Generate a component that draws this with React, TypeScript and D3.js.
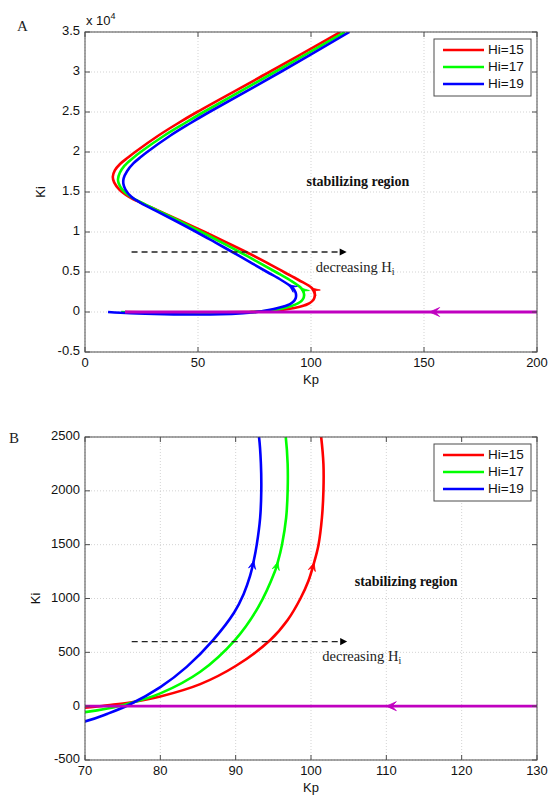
import React from 'react';
import * as d3 from 'd3';

// ---------------- data ----------------
const seriesNames = ['Hi=15', 'Hi=17', 'Hi=19'];
const seriesColors = ['#ff0000', '#00ff00', '#0000ff'];

const redKp = [17.7, 30, 45, 60, 70, 73, 76, 80, 85.3, 90, 94.6, 96.9, 98.6, 99.64, 100.4, 101.0, 101.45, 101.65, 101.65, 101.35, 100.35, 94.5, 88, 80.2, 71.3, 62.6, 53, 41.5, 32.2, 25.2, 19.5, 15.2, 12.9, 12.3, 13.2, 15.5, 19, 22.2, 32.2, 40.6, 49.6, 81.6, 113];
const redKi = [0, -40, -60, -50, -15, 8, 34, 90, 205, 373, 614, 800, 1000, 1160, 1331, 1500, 1750, 2000, 2250, 2500, 3000, 4000, 5000, 6200, 7500, 8700, 10000, 11500, 12700, 13600, 14400, 15300, 16200, 16900, 17700, 18500, 19300, 20000, 22000, 23500, 25000, 30000, 35000];

const greenKp = [16, 25, 40, 55, 65, 70, 73, 75.5, 80, 85.3, 89.9, 93.0, 95.2, 95.6, 96.15, 96.7, 96.9, 96.9, 96.65, 95.6, 90.6, 84.4, 76.8, 68.4, 60.4, 51.5, 40.8, 32, 25.5, 20.2, 16.5, 14.9, 14.6, 15.4, 17.5, 21, 24.6, 34.8, 43.5, 52.5, 84, 115];
const greenKi = [0, -80, -130, -128, -95, -55, -21, 18, 119, 320, 614, 920, 1250, 1340, 1500, 1750, 2000, 2250, 2500, 3000, 4000, 5000, 6200, 7500, 8700, 10000, 11500, 12700, 13600, 14400, 15300, 16100, 16600, 17400, 18300, 19200, 20000, 22000, 23500, 25000, 30000, 35000];

const blueKp = [10.2, 20, 35, 50, 60, 70, 73, 76, 80, 83.5, 87, 89.8, 91.05, 91.9, 92.4, 92.8, 93.25, 93.4, 93.35, 93.1, 91.9, 90.1, 86.8, 80.6, 73.2, 65.2, 57.6, 49.3, 39.3, 31, 24.8, 20.5, 17.9, 17, 17.1, 18.6, 21.5, 24.8, 27.5, 37.5, 46, 55, 86.5, 117];
const blueKi = [0, -150, -270, -320, -284, -142, -70, 18, 177, 365, 614, 870, 1040, 1207, 1350, 1500, 1750, 2000, 2250, 2500, 3000, 3400, 4000, 5000, 6200, 7500, 8700, 10000, 11500, 12700, 13600, 14400, 15300, 16000, 16700, 17600, 18600, 19400, 20000, 22000, 23500, 25000, 30000, 35000];

// Ki value of the data point carrying the direction arrow, per series
const arrowKiA = [3000, 3000, 3400];
const arrowKiB = [1331, 1340, 1350];

// magenta Ki = 0 boundary
const magentaKpA = [17.7, 200];
const magentaKpB = [70, 130];
const magentaArrowA = 152.5;
const magentaArrowB = 110;

// dashed "decreasing Hi" arrows
const dashKpA = [20.6, 115.8];
const dashKiA = 7500;
const dashKpB = [76.2, 104.8];
const dashKiB = 600;

// axes
const xTicksA = [0, 50, 100, 150, 200];
const yTicksA = [-5000, 0, 5000, 10000, 15000, 20000, 25000, 30000, 35000];
const xTicksB = [70, 80, 90, 100, 110, 120, 130];
const yTicksB = [-500, 0, 500, 1000, 1500, 2000, 2500];

// text anchors (data coords)
const stabA = [98, 15750];
const stabB = [105.8, 1120];
const decA = [102.1, 5000];
const decB = [101.5, 417];

// ---------------- drawing ----------------
const W = 549;
const H = 796;
const SANS = 'Liberation Sans, Arial, sans-serif';
const SERIF = 'Liberation Serif, Times New Roman, serif';
const MAGENTA = '#c000c0';

type Pt = [number, number];
const zip = (a: number[], b: number[]): Pt[] => a.map((v, i) => [v, b[i]]);
const series = [zip(redKp, redKi), zip(greenKp, greenKi), zip(blueKp, blueKi)];

function vArrow(tip: Pt, dir: Pt, len: number, half: number, color: string, key: string) {
  const n = Math.hypot(dir[0], dir[1]) || 1;
  const ux = dir[0] / n, uy = dir[1] / n;
  const px = -uy, py = ux;
  const bx = tip[0] - ux * len, by = tip[1] - uy * len;
  const nx = tip[0] - ux * len * 0.55, ny = tip[1] - uy * len * 0.55;
  const d = `M${tip[0]},${tip[1]}L${bx + px * half},${by + py * half}L${nx},${ny}L${bx - px * half},${by - py * half}Z`;
  return <path key={key} d={d} fill={color} stroke={color} strokeWidth={0.8} strokeLinejoin="miter" />;
}

function triArrow(tip: Pt, dir: Pt, len: number, half: number, color: string) {
  const n = Math.hypot(dir[0], dir[1]) || 1;
  const ux = dir[0] / n, uy = dir[1] / n;
  const px = -uy, py = ux;
  const bx = tip[0] - ux * len, by = tip[1] - uy * len;
  const d = `M${tip[0]},${tip[1]}L${bx + px * half},${by + py * half}L${bx - px * half},${by - py * half}Z`;
  return <path d={d} fill={color} />;
}

interface PanelCfg {
  id: string;
  letter: string;
  letterPos: Pt;
  xDomain: [number, number];
  yDomain: [number, number];
  left: number; right: number; top: number; bottom: number;
  xTicks: number[]; yTicks: number[];
  yFmt: (v: number) => string;
  arrowKi: number[];
  magKp: number[]; magArrow: number;
  dashKp: number[]; dashKi: number;
  stab: number[]; dec: number[];
  exponent: boolean;
  yLabelX: number;
}

function Panel({ c }: { c: PanelCfg }) {
  const x = d3.scaleLinear().domain(c.xDomain).range([c.left, c.right]);
  const y = d3.scaleLinear().domain(c.yDomain).range([c.bottom, c.top]);
  const line = d3.line<Pt>().x(d => x(d[0])).y(d => y(d[1])).curve(d3.curveCatmullRom.alpha(0.5));
  const clipId = 'clip' + c.id;
  const tick = 5;
  const axisColor = '#4d4d4d';

  const arrows = series.map((pts, si) => {
    const idx = pts.findIndex(p => p[1] === c.arrowKi[si]);
    if (idx < 1) return null;
    const a = pts[idx - 1], b = pts[idx + 1];
    const dir: Pt = [x(b[0]) - x(a[0]), y(b[1]) - y(a[1])];
    return vArrow([x(pts[idx][0]), y(pts[idx][1])], dir, 8, 3.6, seriesColors[si], 'ar' + si);
  });

  const legTop = c.top + 7;
  return (
    <g>
      <defs>
        <clipPath id={clipId}>
          <rect x={c.left} y={c.top} width={c.right - c.left} height={c.bottom - c.top} />
        </clipPath>
      </defs>
      <rect x={c.left} y={c.top} width={c.right - c.left} height={c.bottom - c.top} fill="#fff" />
      {/* grid */}
      {c.xTicks.map(t => (
        <line key={'gx' + t} x1={x(t)} x2={x(t)} y1={c.top} y2={c.bottom} stroke="#c8c8c8" strokeWidth={0.8} strokeDasharray="1,2" />
      ))}
      {c.yTicks.map(t => (
        <line key={'gy' + t} x1={c.left} x2={c.right} y1={y(t)} y2={y(t)} stroke="#c8c8c8" strokeWidth={0.8} strokeDasharray="1,2" />
      ))}
      {/* curves */}
      <g clipPath={`url(#${clipId})`}>
        {series.map((pts, si) => (
          <path key={'s' + si} d={line(pts) || ''} fill="none" stroke={seriesColors[si]} strokeWidth={2.6} strokeLinejoin="round" />
        ))}
        {arrows}
        <line x1={x(c.magKp[0])} x2={x(c.magKp[1])} y1={y(0)} y2={y(0)} stroke={MAGENTA} strokeWidth={2.8} />
        {vArrow([x(c.magArrow), y(0)], [-1, 0], 10, 4.5, MAGENTA, 'mag')}
      </g>
      {/* dashed annotation */}
      <line x1={x(c.dashKp[0])} x2={x(c.dashKp[1]) - 6} y1={y(c.dashKi)} y2={y(c.dashKi)} stroke="#222" strokeWidth={1.3} strokeDasharray="6,4" />
      {triArrow([x(c.dashKp[1]), y(c.dashKi)], [1, 0], 7, 3.6, '#000')}
      <text x={x(c.dec[0])} y={y(c.dec[1])} fontFamily={SERIF} fontSize={14.5} fill="#222">
        decreasing H<tspan fontSize={10} dy={3}>i</tspan>
      </text>
      <text x={x(c.stab[0])} y={y(c.stab[1])} fontFamily={SERIF} fontSize={14} fontWeight="bold" fill="#111">
        stabilizing region
      </text>
      {/* frame */}
      <rect x={c.left} y={c.top} width={c.right - c.left} height={c.bottom - c.top} fill="none" stroke={axisColor} strokeWidth={1} />
      {c.xTicks.map(t => (
        <g key={'tx' + t}>
          <line x1={x(t)} x2={x(t)} y1={c.bottom} y2={c.bottom - tick} stroke={axisColor} />
          <line x1={x(t)} x2={x(t)} y1={c.top} y2={c.top + tick} stroke={axisColor} />
          <text x={x(t)} y={c.bottom + 12} textAnchor="middle" dominantBaseline="middle" fontFamily={SANS} fontSize={13} fill="#111">{t}</text>
        </g>
      ))}
      {c.yTicks.map(t => (
        <g key={'ty' + t}>
          <line x1={c.left} x2={c.left + tick} y1={y(t)} y2={y(t)} stroke={axisColor} />
          <line x1={c.right} x2={c.right - tick} y1={y(t)} y2={y(t)} stroke={axisColor} />
          <text x={c.left - 5} y={y(t)} textAnchor="end" dominantBaseline="middle" fontFamily={SANS} fontSize={13} fill="#111">{c.yFmt(t)}</text>
        </g>
      ))}
      {c.exponent && (
        <text x={c.left + 1} y={c.top - 7} fontFamily={SANS} fontSize={13} fill="#111">
          x 10<tspan fontSize={9} dy={-6}>4</tspan>
        </text>
      )}
      <text x={(c.left + c.right) / 2} y={c.bottom + 29} textAnchor="middle" dominantBaseline="middle" fontFamily={SANS} fontSize={13} fill="#111">Kp</text>
      <text transform={`translate(${c.yLabelX},${(c.top + c.bottom) / 2}) rotate(-90)`} textAnchor="middle" dominantBaseline="middle" fontFamily={SANS} fontSize={13} fill="#111">Ki</text>
      <text x={c.letterPos[0]} y={c.letterPos[1]} fontFamily={SERIF} fontSize={15} fill="#222">{c.letter}</text>
      {/* legend */}
      <rect x={434} y={legTop} width={97} height={57} fill="#fff" stroke={axisColor} strokeWidth={1} />
      {seriesNames.map((nm, i) => (
        <g key={'lg' + i}>
          <line x1={443} x2={484} y1={legTop + 11 + i * 17} y2={legTop + 11 + i * 17} stroke={seriesColors[i]} strokeWidth={2.6} />
          <text x={488} y={legTop + 11 + i * 17} dominantBaseline="middle" fontFamily={SANS} fontSize={13.5} fill="#111">{nm}</text>
        </g>
      ))}
    </g>
  );
}

const panelA: PanelCfg = {
  id: 'A', letter: 'A', letterPos: [17, 31],
  xDomain: [0, 200], yDomain: [-5000, 35000],
  left: 85, right: 537, top: 32, bottom: 352,
  xTicks: xTicksA, yTicks: yTicksA,
  yFmt: v => String(v / 1e4),
  arrowKi: arrowKiA,
  magKp: magentaKpA, magArrow: magentaArrowA,
  dashKp: dashKpA, dashKi: dashKiA,
  stab: stabA, dec: decA,
  exponent: true, yLabelX: 42,
};

const panelB: PanelCfg = {
  id: 'B', letter: 'B', letterPos: [9, 443],
  xDomain: [70, 130], yDomain: [-500, 2500],
  left: 85, right: 537, top: 437, bottom: 760,
  xTicks: xTicksB, yTicks: yTicksB,
  yFmt: v => String(v),
  arrowKi: arrowKiB,
  magKp: magentaKpB, magArrow: magentaArrowB,
  dashKp: dashKpB, dashKi: dashKiB,
  stab: stabB, dec: decB,
  exponent: false, yLabelX: 37,
};

export default function App() {
  return (
    <svg width={W} height={H} style={{ position: 'absolute', left: 0, top: 0, background: '#fff' }}>
      <rect width={W} height={H} fill="#fff" />
      <Panel c={panelA} />
      <Panel c={panelB} />
    </svg>
  );
}
